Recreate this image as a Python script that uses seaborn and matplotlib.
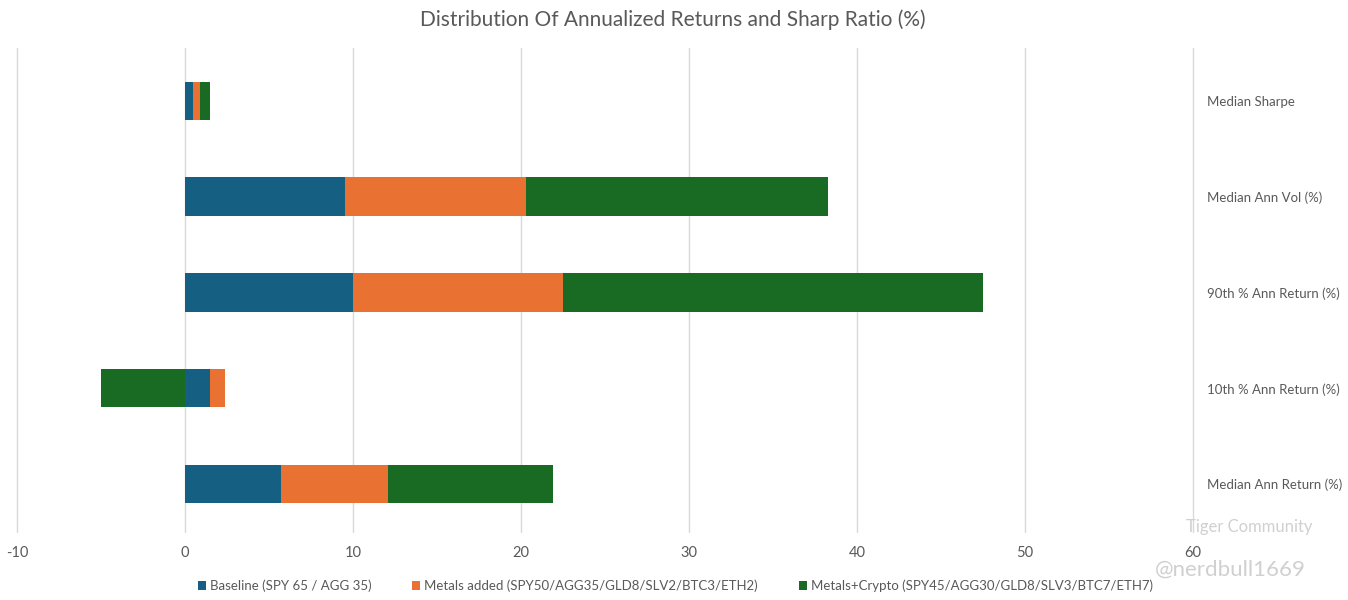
"""
Stacked horizontal bars: annualized returns and Sharpe distribution.
"""
import pandas as pd
import matplotlib.pyplot as plt
import seaborn as sns

# Data (Excel order: first category sits at the bottom)
categories = ['Median Ann Return (%)', '10th % Ann Return (%)', '90th % Ann Return (%)',
              'Median Ann Vol (%)', 'Median Sharpe']
baseline = [5.7, 1.5, 10.0, 9.5, 0.45]
metals = [6.4, 0.9, 12.5, 10.8, 0.47]
crypto = [9.8, -5.0, 25.0, 18.0, 0.55]
series_names = ['Baseline (SPY 65 / AGG 35)',
                'Metals added (SPY50/AGG35/GLD8/SLV2/BTC3/ETH2)',
                'Metals+Crypto (SPY45/AGG30/GLD8/SLV3/BTC7/ETH7)']
colors = ['#156082', '#E97132', '#196B24']
x_ticks = [-10, 0, 10, 20, 30, 40, 50, 60]

TEXT = '#595959'

sns.set_theme(style='white')
plt.rcParams['font.family'] = ['Lato', 'DejaVu Sans']

df = pd.DataFrame({'Category': categories, series_names[0]: baseline,
                   series_names[1]: metals, series_names[2]: crypto})

# Excel-style stacking: positives pile up right of zero, negatives left of it
ends = {}
pos = [0.0] * len(categories)
neg = [0.0] * len(categories)
for name in series_names:
    e = []
    for i, v in enumerate(df[name]):
        if v >= 0:
            pos[i] += v
            e.append(pos[i])
        else:
            neg[i] += v
            e.append(neg[i])
    ends[name] = e

fig = plt.figure(figsize=(13.48, 6), dpi=100)
ax = fig.add_axes([17 / 1348, 68 / 600, (1193 - 17) / 1348, (532 - 48) / 600])

order = categories[::-1]
# draw the longest stack first so shorter ones paint over it
for name, col in reversed(list(zip(series_names, colors))):
    sns.barplot(x=ends[name], y=categories, order=order, orient='h',
                color=col, width=0.4, ax=ax, saturation=1, label=name,
                linewidth=0)

ax.set_xlim(-10, 60)
ax.set_ylim(4.5, -0.55)
ax.set_xticks(x_ticks)
ax.set_xticklabels([str(t) for t in x_ticks], color=TEXT, fontsize=10.5)
ax.grid(axis='x', color='#d9d9d9', linewidth=1)
for gl in ax.get_xgridlines():
    gl.set_clip_on(False)
ax.set_axisbelow(True)
ax.set_xlabel('')
ax.set_ylabel('')
ax.yaxis.tick_right()
ax.tick_params(axis='both', length=0)
ax.tick_params(axis='x', pad=10)
ax.tick_params(axis='y', pad=10)
for lbl in ax.get_yticklabels():
    lbl.set_color(TEXT)
    lbl.set_fontsize(9.5)
    lbl.set_horizontalalignment('left')
sns.despine(ax=ax, left=True, bottom=True, right=True, top=True)

leg = ax.get_legend()
if leg:
    leg.remove()
handles, labels = ax.get_legend_handles_labels()
hl = dict(zip(labels, handles))
fig.legend([hl[n] for n in series_names], series_names, loc='center',
           bbox_to_anchor=(0.501, 14 / 600), ncol=3, frameon=False,
           fontsize=9.5, labelcolor=TEXT, handlelength=0.6, handleheight=0.6,
           handletextpad=0.3, columnspacing=3.1)

fig.text(0.499, 1 - 20 / 600, 'Distribution Of Annualized Returns and Sharp Ratio (%)',
         ha='center', va='center', fontsize=15, color=TEXT)

# platform watermark
fig.text(1186 / 1348, 1 - 527 / 600, 'Tiger Community', fontsize=12, color='#d0d0d0',
         va='center', ha='left')
fig.text(1155 / 1348, 1 - 570 / 600, '@nerdbull1669', fontsize=16, color='#d0d0d0',
         va='center', ha='left')

plt.savefig('out.png', dpi=100)
plt.close()
